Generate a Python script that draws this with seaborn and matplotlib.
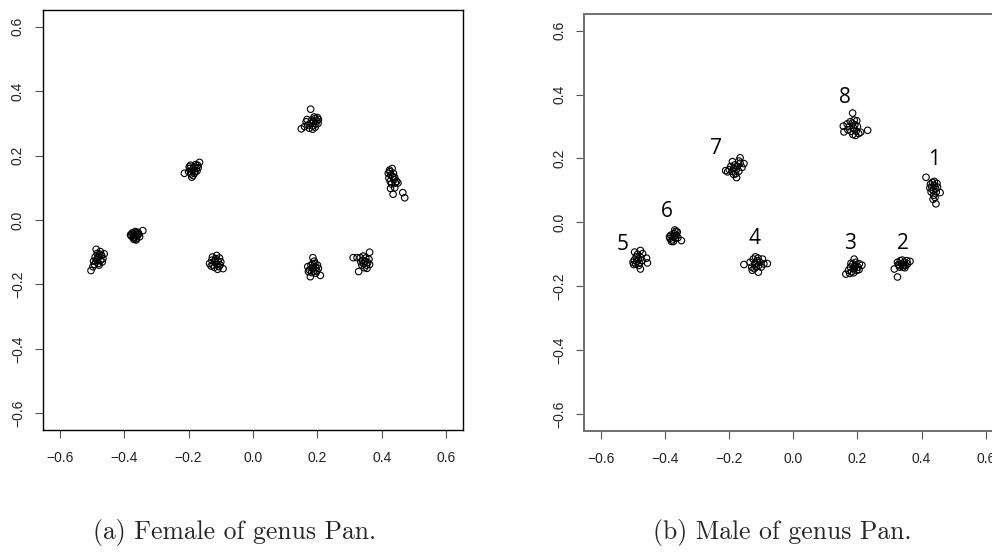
import matplotlib
matplotlib.use("Agg")
import matplotlib.pyplot as plt
import seaborn as sns
import pandas as pd

# ---------------- data ----------------
tick_values = [-0.6, -0.4, -0.2, 0.0, 0.2, 0.4, 0.6]
tick_labels = ["\u22120.6", "\u22120.4", "\u22120.2", "0.0", "0.2", "0.4", "0.6"]

female_x = [
    -0.503, -0.497, -0.492, -0.488, -0.485, -0.482, -0.479, -0.476, -0.487, -0.474,
    -0.470, -0.466, -0.468, -0.480, -0.490, -0.495, -0.484, -0.473, -0.478, -0.462,
    -0.378, -0.372, -0.368, -0.364, -0.360, -0.356, -0.370, -0.362, -0.375, -0.366,
    -0.358, -0.352, -0.342, -0.380, -0.363, -0.369, -0.355, -0.372,
    -0.213, -0.200, -0.196, -0.192, -0.188, -0.184, -0.180, -0.176, -0.172, -0.166,
    -0.194, -0.186, -0.190, -0.178, -0.198, -0.182, -0.170, -0.174, -0.192,
    -0.135, -0.128, -0.124, -0.120, -0.116, -0.113, -0.112, -0.108, -0.104, -0.102,
    -0.093, -0.110, -0.120, -0.130, -0.126, -0.106, -0.118, -0.100,
    0.150, 0.160, 0.165, 0.170, 0.175, 0.178, 0.182, 0.185, 0.188, 0.192,
    0.195, 0.198, 0.200, 0.202, 0.179, 0.185, 0.168, 0.193, 0.190, 0.203,
    0.420, 0.424, 0.432, 0.428, 0.422, 0.426, 0.434, 0.438, 0.442, 0.446,
    0.430, 0.436, 0.427, 0.435, 0.440, 0.450, 0.465, 0.471, 0.425, 0.440,
    0.178, 0.209, 0.186, 0.170, 0.175, 0.180, 0.185, 0.188, 0.192, 0.195,
    0.198, 0.200, 0.203, 0.182, 0.172, 0.190, 0.195, 0.185,
    0.311, 0.323, 0.333, 0.362, 0.328, 0.340, 0.344, 0.348, 0.352, 0.338,
    0.356, 0.346, 0.354, 0.360, 0.342, 0.335, 0.350, 0.362,
]
female_y = [
    -0.157, -0.145, -0.138, -0.130, -0.124, -0.118, -0.112, -0.106, -0.091, -0.098,
    -0.110, -0.120, -0.130, -0.135, -0.115, -0.128, -0.104, -0.125, -0.140, -0.105,
    -0.050, -0.044, -0.055, -0.040, -0.050, -0.045, -0.060, -0.058, -0.040, -0.036,
    -0.038, -0.052, -0.033, -0.046, -0.062, -0.048, -0.042, -0.054,
    0.145, 0.150, 0.160, 0.143, 0.155, 0.165, 0.150, 0.160, 0.170, 0.179,
    0.170, 0.138, 0.133, 0.172, 0.165, 0.145, 0.163, 0.152, 0.150,
    -0.135, -0.125, -0.140, -0.130, -0.120, -0.110, -0.138, -0.128, -0.118, -0.140,
    -0.151, -0.153, -0.147, -0.143, -0.115, -0.145, -0.125, -0.130,
    0.283, 0.290, 0.305, 0.295, 0.285, 0.300, 0.310, 0.292, 0.305, 0.315,
    0.298, 0.308, 0.318, 0.300, 0.344, 0.282, 0.312, 0.288, 0.320, 0.312,
    0.145, 0.155, 0.160, 0.140, 0.130, 0.120, 0.135, 0.125, 0.115, 0.120,
    0.112, 0.145, 0.098, 0.080, 0.100, 0.115, 0.085, 0.069, 0.150, 0.132,
    -0.176, -0.172, -0.117, -0.145, -0.155, -0.140, -0.150, -0.160, -0.135, -0.148,
    -0.158, -0.140, -0.150, -0.163, -0.160, -0.128, -0.165, -0.137,
    -0.117, -0.117, -0.117, -0.100, -0.160, -0.125, -0.135, -0.128, -0.140, -0.140,
    -0.132, -0.148, -0.150, -0.122, -0.112, -0.130, -0.118, -0.138,
]

male_x = [
    0.414, 0.445, 0.458, 0.428, 0.432, 0.436, 0.440, 0.444, 0.448, 0.430,
    0.438, 0.442, 0.446, 0.434, 0.426, 0.450, 0.436, 0.440,
    0.325, 0.315, 0.364, 0.325, 0.330, 0.334, 0.338, 0.342, 0.346, 0.350,
    0.354, 0.340, 0.332, 0.348, 0.356, 0.328, 0.344,
    0.164, 0.190, 0.214, 0.172, 0.178, 0.182, 0.186, 0.190, 0.194, 0.198,
    0.202, 0.206, 0.180, 0.195, 0.188, 0.205, 0.176, 0.192,
    -0.154, -0.081, -0.109, -0.135, -0.130, -0.125, -0.120, -0.116, -0.112, -0.108,
    -0.104, -0.100, -0.096, -0.118, -0.128, -0.110, -0.092, -0.122,
    -0.477, -0.455, -0.458, -0.495, -0.477, -0.500, -0.496, -0.492, -0.488, -0.484,
    -0.480, -0.476, -0.472, -0.486, -0.498, -0.490, -0.482, -0.470,
    -0.349, -0.370, -0.385, -0.382, -0.378, -0.375, -0.372, -0.368, -0.365, -0.362,
    -0.380, -0.360, -0.374, -0.366, -0.386, -0.370,
    -0.211, -0.166, -0.177, -0.154, -0.200, -0.195, -0.190, -0.186, -0.182, -0.178,
    -0.174, -0.170, -0.166, -0.190, -0.180, -0.170, -0.160, -0.186, -0.205,
    0.185, 0.232, 0.158, 0.156, 0.170, 0.175, 0.180, 0.184, 0.188, 0.192,
    0.196, 0.200, 0.190, 0.186, 0.178, 0.204, 0.194, 0.168, 0.198, 0.210,
]
male_y = [
    0.141, 0.058, 0.093, 0.120, 0.110, 0.100, 0.115, 0.105, 0.122, 0.095,
    0.085, 0.078, 0.095, 0.125, 0.108, 0.110, 0.072, 0.128,
    -0.171, -0.146, -0.122, -0.125, -0.135, -0.120, -0.130, -0.140, -0.125, -0.135,
    -0.120, -0.118, -0.140, -0.142, -0.130, -0.132, -0.133,
    -0.162, -0.115, -0.134, -0.150, -0.140, -0.155, -0.130, -0.145, -0.135, -0.150,
    -0.140, -0.130, -0.128, -0.125, -0.158, -0.148, -0.160, -0.138,
    -0.132, -0.129, -0.156, -0.125, -0.140, -0.115, -0.130, -0.140, -0.120, -0.135,
    -0.125, -0.140, -0.115, -0.108, -0.150, -0.112, -0.130, -0.145,
    -0.146, -0.127, -0.112, -0.093, -0.088, -0.125, -0.118, -0.130, -0.122, -0.115,
    -0.128, -0.110, -0.120, -0.100, -0.132, -0.108, -0.135, -0.098,
    -0.057, -0.024, -0.050, -0.040, -0.055, -0.045, -0.035, -0.050, -0.040, -0.030,
    -0.060, -0.048, -0.060, -0.028, -0.045, -0.042,
    0.162, 0.202, 0.140, 0.184, 0.165, 0.175, 0.160, 0.170, 0.180, 0.165,
    0.175, 0.160, 0.185, 0.190, 0.152, 0.192, 0.172, 0.150, 0.158,
    0.342, 0.288, 0.283, 0.301, 0.290, 0.300, 0.285, 0.310, 0.295, 0.305,
    0.285, 0.300, 0.320, 0.275, 0.315, 0.278, 0.272, 0.308, 0.318, 0.282,
]

group_labels = ["1", "2", "3", "4", "5", "6", "7", "8"]
label_x = [0.440, 0.341, 0.177, -0.120, -0.531, -0.396, -0.240, 0.161]
label_y = [0.197, -0.067, -0.067, -0.052, -0.070, 0.034, 0.231, 0.392]

captions = ["(a) Female of genus Pan.", "(b) Male of genus Pan."]

# ---------------- style ----------------
sns.set_theme(style="white")
plt.rcParams["font.family"] = ["Liberation Sans", "DejaVu Sans"]

W, H = 992, 555
fig = plt.figure(figsize=(W / 100, H / 100), dpi=100)

ax1 = fig.add_axes([43 / W, (H - 430) / H, 420 / W, 420 / H])
ax2 = fig.add_axes([584.3 / W, (H - 430.7) / H, 418 / W, 416.7 / H])

female = pd.DataFrame({"x": female_x, "y": female_y})
male = pd.DataFrame({"x": male_x, "y": male_y})

for ax, df, spine_col, spine_lw in [(ax1, female, "black", 1.0),
                                     (ax2, male, "#707070", 1.4)]:
    sns.scatterplot(data=df, x="x", y="y", ax=ax, marker="o", s=22,
                    fc="none", ec="black", linewidth=0.8, legend=False)
    ax.set_xlim(-0.652, 0.652)
    ax.set_ylim(-0.652, 0.652)
    ax.set_xticks(tick_values)
    ax.set_xticklabels(tick_labels)
    ax.set_yticks(tick_values)
    ax.set_yticklabels(tick_labels, rotation=90, va="center")
    ax.set_xlabel("")
    ax.set_ylabel("")
    for sp in ax.spines.values():
        sp.set_visible(True)
        sp.set_color(spine_col)
        sp.set_linewidth(spine_lw)
    ax.tick_params(axis="both", which="major", direction="out", length=6,
                   width=0.8, color="#555555", labelsize=10, labelcolor="#222222",
                   bottom=True, left=True, top=False, right=False)
    ax.tick_params(axis="x", pad=9)
    ax.tick_params(axis="y", pad=7)
    ax.set_facecolor("white")

for lab, lx, ly in zip(group_labels, label_x, label_y):
    ax2.text(lx, ly, lab, ha="center", va="center", fontsize=15,
             family=["Open Sans", "DejaVu Sans"], color="black")

fig.text(235 / W, 1 - 533 / H, captions[0], ha="center", va="center",
         family="cmr10", fontsize=18.5)
fig.text(782 / W, 1 - 533 / H, captions[1], ha="center", va="center",
         family="cmr10", fontsize=18.5)

fig.savefig("out.png", dpi=100, facecolor="white")
